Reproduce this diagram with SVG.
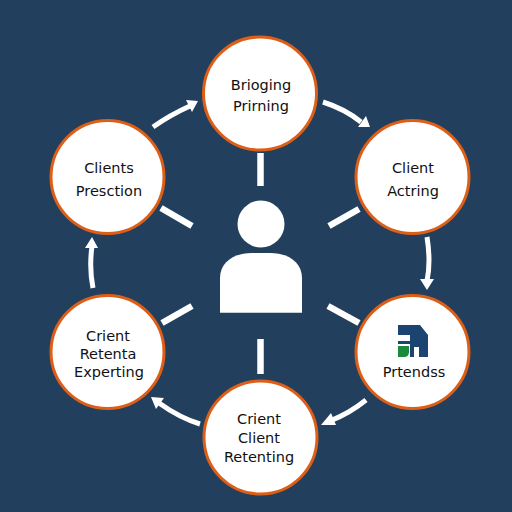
<svg xmlns="http://www.w3.org/2000/svg" width="512" height="512" viewBox="0 0 512 512">
<defs>
<style>
.n{fill:#fff;stroke:#dd5f17;stroke-width:3}
.t{font-family:"DejaVu Sans",sans-serif;font-size:14.500px;fill:#111;text-anchor:middle;font-weight:400}
.s{stroke:#fff;stroke-width:6.500;fill:none}
.a{stroke:#fff;stroke-width:5;fill:none}
.h{fill:#fff}
</style>
</defs>
<rect width="512" height="512" fill="#223f5e"/>
<g id="connectors">
<path class="s" d="M260.500 153V186"/>
<path class="s" d="M161 208L192 226"/>
<path class="s" d="M359 209L329 226"/>
<path class="s" d="M192 306L162 323"/>
<path class="s" d="M328 306L359 323"/>
<path class="s" d="M260.500 339V374"/>
<path class="a" d="M153 127Q170 115 190 106"/><polygon class="h" points="198,101 186,100 192,112"/>
<path class="a" d="M323 102Q345 109 361 122"/><polygon class="h" points="370,127 358,127 366,116"/>
<path class="a" d="M427 237Q431 262 427 281"/><polygon class="h" points="427,290 420,279 434,279"/>
<path class="a" d="M366 400Q350 413 330 421"/><polygon class="h" points="321,425 331,413 336,425"/>
<path class="a" d="M200 424Q180 418 159 403"/><polygon class="h" points="151,397 164,398 156,409"/>
<path class="a" d="M93 288Q89 268 92 246"/><polygon class="h" points="92,237 85,248 98,248"/>
</g>
<g id="center-person">
<circle cx="261" cy="224" r="23.500" fill="#fff"/>
<path fill="#fff" d="M220 312.700V278C220 262 234 253 252 253H270C288 253 302 262 302 278V312.700Z"/>
</g>
<g id="node-top"><circle class="n" cx="260" cy="93.500" r="56.500"/>
<text class="t" x="261" y="90">Brioging</text><text class="t" x="261" y="111">Prirning</text></g>
<g id="node-upper-right"><circle class="n" cx="412.500" cy="177" r="56.500"/>
<text class="t" x="413" y="173">Client</text><text class="t" x="413" y="196">Actring</text></g>
<g id="node-lower-right"><circle class="n" cx="412.500" cy="352" r="56.500"/>
<path fill="#1c4470" d="M398 325H420L428 335V357H419V347H414V357H410V344H398V341H410V335H398Z"/>
<path fill="#1c8a3c" d="M398 346H409V352Q409 357 404 357H398Z"/>
<text class="t" x="414" y="377">Prtendss</text></g>
<g id="node-bottom"><circle class="n" cx="260.500" cy="437.500" r="56.500"/>
<text class="t" x="259" y="424">Crient</text><text class="t" x="259" y="443">Client</text><text class="t" x="259" y="462">Retenting</text></g>
<g id="node-lower-left"><circle class="n" cx="107.500" cy="352" r="56.500"/>
<text class="t" x="108" y="341">Crient</text><text class="t" x="108" y="359">Retenta</text><text class="t" x="109" y="377">Experting</text></g>
<g id="node-upper-left"><circle class="n" cx="107.500" cy="177" r="56.500"/>
<text class="t" x="109" y="173">Clients</text><text class="t" x="109" y="196">Presction</text></g>
</svg>
